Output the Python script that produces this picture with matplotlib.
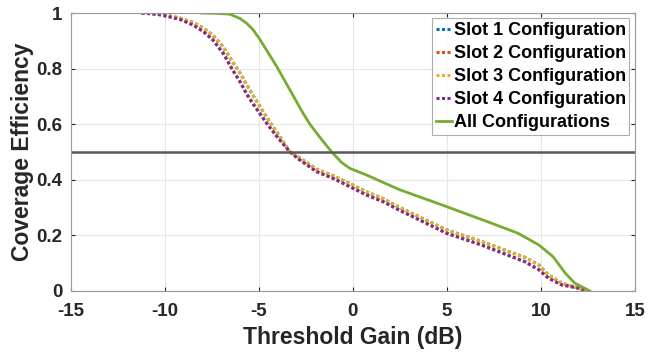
import numpy as np
import matplotlib
matplotlib.use('Agg')
import matplotlib.pyplot as plt

plt.rcParams['font.family'] = ['Liberation Sans', 'DejaVu Sans']
plt.rcParams['font.weight'] = 'bold'
plt.rcParams['axes.unicode_minus'] = False

# 数据: 阈值增益 (dB) 与 覆盖效率
x_slot34 = [-11.25, -10.45, -9.9, -9.2, -8.5, -7.95, -7.45, -6.9, -6.4, -6.0, -5.65, -5.3,
            -4.95, -4.5, -4.0, -3.35, -2.82, -1.93, -1.05, -0.16, 0.73, 1.61, 2.4, 5.0,
            6.85, 8.0, 9.15, 9.9, 10.4, 11.1, 12.0, 12.5]
y_slot4 = [1.0, 0.996, 0.989, 0.977, 0.957, 0.933, 0.903, 0.855, 0.795, 0.752, 0.708, 0.672,
           0.638, 0.595, 0.552, 0.5, 0.471, 0.429, 0.405, 0.375, 0.345, 0.321, 0.293, 0.207,
           0.165, 0.135, 0.105, 0.076, 0.046, 0.022, 0.01, 0.0]
y_slot3 = [1.0, 0.997, 0.992, 0.982, 0.966, 0.946, 0.92, 0.878, 0.824, 0.784, 0.742, 0.702,
           0.664, 0.616, 0.566, 0.5, 0.478, 0.438, 0.414, 0.386, 0.356, 0.332, 0.303, 0.219,
           0.178, 0.149, 0.121, 0.093, 0.058, 0.028, 0.01, 0.0]
# Slot 1/2 与 Slot 3/4 几乎重合
y_slot1 = y_slot3
y_slot2 = y_slot4

x_all = [-8.05, -7.3, -6.55, -6.0, -5.65, -5.3, -4.95, -4.6, -4.05, -3.35, -2.65, -2.29,
         -1.75, -1.13, -0.6, -0.16, 0.73, 2.45, 5.0, 7.4, 8.8, 9.9, 10.65, 11.3, 11.8, 12.6]
y_all = [1.0, 0.999, 0.996, 0.98, 0.963, 0.939, 0.905, 0.867, 0.807, 0.723, 0.639, 0.6,
         0.552, 0.5, 0.462, 0.441, 0.417, 0.365, 0.303, 0.243, 0.207, 0.165, 0.123, 0.064, 0.028, 0.0]

c1 = (0.0, 0.447, 0.741)
c2 = (0.85, 0.325, 0.098)
c3 = (0.929, 0.694, 0.125)
c4 = (0.494, 0.184, 0.556)
c5 = (0.466, 0.674, 0.188)

fig = plt.figure(figsize=(6.64, 3.53), dpi=100)
ax = fig.add_axes([0.107, 0.176, 0.849, 0.787])

dot = (0, (1, 0.8))
ax.plot(x_slot34, y_slot1, color=c1, lw=2.2, ls=dot, label='Slot 1 Configuration')
ax.plot(x_slot34, y_slot2, color=c2, lw=2.2, ls=dot, label='Slot 2 Configuration')
ax.plot(x_slot34, y_slot3, color=c3, lw=2.2, ls=dot, label='Slot 3 Configuration')
ax.plot(x_slot34, y_slot4, color=c4, lw=2.2, ls=dot, label='Slot 4 Configuration')
ax.plot(x_all, y_all, color=c5, lw=2.0, label='All Configurations')

# 0.5 参考线
ax.axhline(0.5, color=(0.35, 0.35, 0.35), lw=1.8)

ax.set_xlim(-15, 15)
ax.set_ylim(0, 1)
ax.set_xticks([-15, -10, -5, 0, 5, 10, 15])
ax.set_yticks([0, 0.2, 0.4, 0.6, 0.8, 1])
ax.set_yticklabels(['0', '0.2', '0.4', '0.6', '0.8', '1'])
ax.grid(True, color=(0.9, 0.9, 0.9), lw=0.8)
ax.set_axisbelow(True)
for s in ax.spines.values():
    s.set_color((0.6, 0.6, 0.6))
ax.tick_params(labelsize=13.5, colors=(0.15, 0.15, 0.15), length=3, width=0.8,
               direction='in', top=True, right=True)
ax.tick_params(axis='x', pad=9)
ax.tick_params(axis='y', pad=6)
for lab in ax.get_xticklabels() + ax.get_yticklabels():
    lab.set_color((0.15, 0.15, 0.15))

ax.set_xlabel('Threshold Gain (dB)', fontsize=16.5, fontweight='bold', color=(0.15, 0.15, 0.15), labelpad=4)
ax.set_ylabel('Coverage Efficiency', fontsize=16.5, fontweight='bold', color=(0.15, 0.15, 0.15), labelpad=2)

leg = ax.legend(loc='upper right', fontsize=13, frameon=True, fancybox=False,
                handlelength=0.9, handletextpad=0.1, borderpad=0.2, labelspacing=0.33,
                borderaxespad=0.3, edgecolor=(0.6, 0.6, 0.6))
leg.get_frame().set_linewidth(0.8)

fig.savefig('out.png', dpi=100)
